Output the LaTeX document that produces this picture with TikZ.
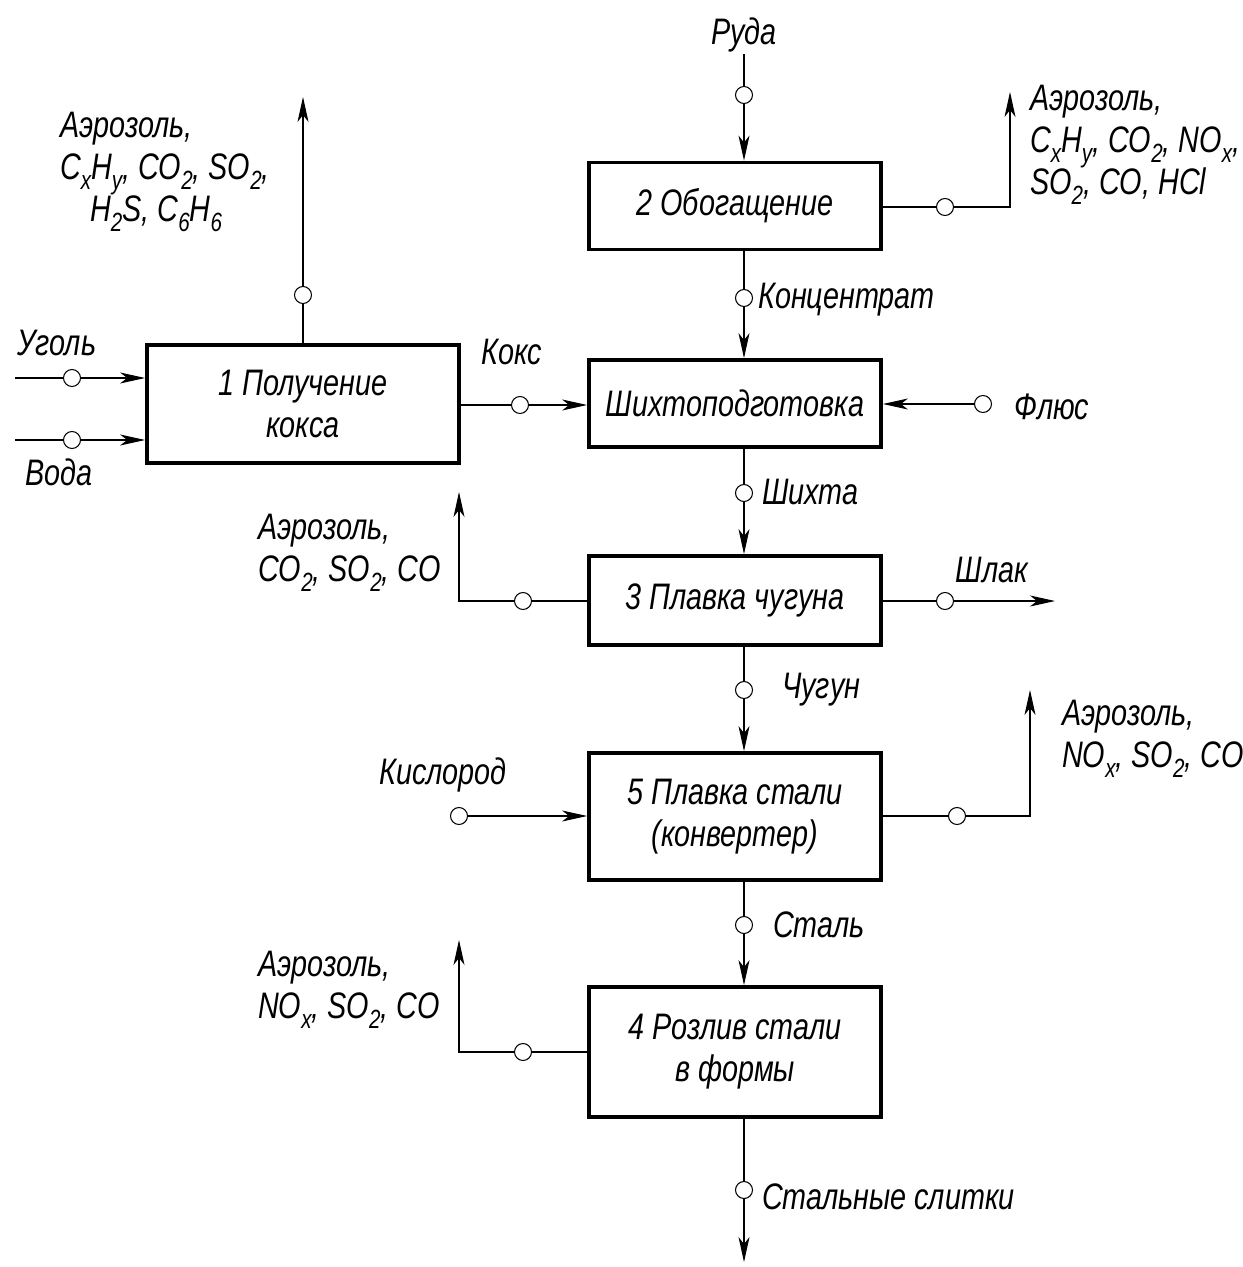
\documentclass[tikz,border=0pt]{standalone}
\usepackage{fontspec}
\setmainfont{Liberation Sans}[FakeStretch=0.78]
\usepackage{tikz}
\usetikzlibrary{arrows.meta, positioning, calc}
\tikzstyle{arrow} = [line width=0.6pt,-{Stealth[length=5mm,width=2.2mm,inset=1.4mm]}]
\tikzstyle{line} = [line width=0.6pt,-]
\newcommand{\idx}[1]{\raisebox{-0.5ex}{\fontsize{15}{15}\selectfont #1}}

\begin{document}
\begin{tikzpicture}[
    x=0.02cm, y=-0.02cm,
    font=\itshape\fontsize{21}{24}\selectfont,
    process/.style={rectangle, draw, line width=2.2pt, minimum width=5.84cm, minimum height=1.74cm, align=center, fill=white},
    probe/.style={circle, draw, line width=0.6pt, minimum size=0.34cm, inner sep=0pt},
    txt/.style={inner sep=1pt, align=left}
]
    \useasboundingbox (0,0) rectangle (1243,1267);

    % processes
    \node[process, minimum width=6.24cm, minimum height=2.36cm] (coking) at (303,404) {1 Получение\\кокса};
    \node[process] (enrich) at (735,206) {2 Обогащение};
    \node[process] (prep) at (735,403.5) {Шихтоподготовка};
    \node[process, minimum height=1.78cm] (ironmelt) at (735,600.5) {3 Плавка чугуна};
    \node[process, minimum height=2.54cm] (steelmelt) at (735,816.5) {5 Плавка стали\\(конвертер)};
    \node[process, minimum height=2.6cm] (casting) at (735,1052) {4 Розлив стали\\в формы};

    % sampling points
    \node[probe] (p-coal) at (72,378) {};
    \node[probe] (p-water) at (72,440) {};
    \node[probe] (p-vent1) at (303,295) {};
    \node[probe] (p-coke) at (520,405) {};
    \node[probe] (p-ore) at (744,95) {};
    \node[probe] (p-vent2) at (945,207) {};
    \node[probe] (p-conc) at (744,298) {};
    \node[probe] (p-flux) at (983,404) {};
    \node[probe] (p-charge) at (744,493) {};
    \node[probe] (p-vent3) at (523,601) {};
    \node[probe] (p-slag) at (945,601) {};
    \node[probe] (p-iron) at (744,690) {};
    \node[probe] (p-o2) at (459,816) {};
    \node[probe] (p-vent5) at (957,816) {};
    \node[probe] (p-steel) at (744,925) {};
    \node[probe] (p-vent4) at (523,1052) {};
    \node[probe] (p-ingot) at (744,1190) {};

    % labels
    \node[txt] (coal) at (57,343) {Уголь};
    \node[txt] (water) at (59,472) {Вода};
    \node[txt] (coke) at (512,352) {Кокс};
    \node[txt] (ore) at (744,35) {Руда};
    \node[txt] (flux) at (1052,407) {Флюс};
    \node[txt] (o2) at (443,775) {Кислород};
    \node[txt] (slag) at (992,570) {Шлак};
    \node[txt, anchor=west] (conc) at (756,300) {Концентрат};
    \node[txt, anchor=west] (charge) at (760,492) {Шихта};
    \node[txt, anchor=west] (iron) at (780,690) {Чугун};
    \node[txt, anchor=west] (steel) at (771,925) {Сталь};
    \node[txt, anchor=west] (ingot) at (760,1197) {Стальные слитки};
    \node[txt, anchor=west] (gas1) at (58,172) {Аэрозоль,\\C\idx{x}H\idx{y}, CO\idx{2}, SO\idx{2},\\\hspace*{0.6cm}H\idx{2}S, C\idx{6}H\idx{6}};
    \node[txt, anchor=west] (gas2) at (1028,145) {Аэрозоль,\\C\idx{x}H\idx{y}, CO\idx{2}, NO\idx{x},\\SO\idx{2}, CO, HCl};
    \node[txt, anchor=west] (gas3) at (256,553) {Аэрозоль,\\CO\idx{2}, SO\idx{2}, CO};
    \node[txt, anchor=west] (gas5) at (1060,739) {Аэрозоль,\\NO\idx{x}, SO\idx{2}, CO};
    \node[txt, anchor=west] (gas4) at (256,990) {Аэрозоль,\\NO\idx{x}, SO\idx{2}, CO};

    % free ends
    \coordinate (coal-in) at (15,378);
    \coordinate (water-in) at (15,440);
    \coordinate (vent1-top) at (303,97);
    \coordinate (vent2-top) at (1010,92);
    \coordinate (vent3-top) at (459,492);
    \coordinate (slag-out) at (1055,601);
    \coordinate (vent5-top) at (1030,690);
    \coordinate (vent4-top) at (459,940);
    \coordinate (ingot-out) at (744,1262);

    % main column
    \draw[arrow] (ore) -- (p-ore) -- (p-ore |- enrich.north);
    \draw[arrow] (p-conc |- enrich.south) -- (p-conc) -- (p-conc |- prep.north);
    \draw[arrow] (p-charge |- prep.south) -- (p-charge) -- (p-charge |- ironmelt.north);
    \draw[arrow] (p-iron |- ironmelt.south) -- (p-iron) -- (p-iron |- steelmelt.north);
    \draw[arrow] (p-steel |- steelmelt.south) -- (p-steel) -- (p-steel |- casting.north);
    \draw[arrow] (p-ingot |- casting.south) -- (p-ingot) -- (ingot-out);

    % inputs
    \draw[arrow] (coal-in) -- (p-coal) -- (p-coal -| coking.west);
    \draw[arrow] (water-in) -- (p-water) -- (p-water -| coking.west);
    \draw[arrow] (coking.east |- p-coke) -- (p-coke) -- (p-coke -| prep.west);
    \draw[arrow] (p-flux) -- (p-flux -| prep.east);
    \draw[arrow] (p-o2) -- (p-o2 -| steelmelt.west);

    % outputs
    \draw[arrow] (coking.north) -- (p-vent1) -- (vent1-top);
    \draw[arrow] (enrich.east |- p-vent2) -- (p-vent2) -| (vent2-top);
    \draw[arrow] (ironmelt.west |- p-vent3) -- (p-vent3) -| (vent3-top);
    \draw[arrow] (ironmelt.east |- p-slag) -- (p-slag) -- (slag-out);
    \draw[arrow] (steelmelt.east |- p-vent5) -- (p-vent5) -| (vent5-top);
    \draw[arrow] (casting.west |- p-vent4) -- (p-vent4) -| (vent4-top);
\end{tikzpicture}
\end{document}
